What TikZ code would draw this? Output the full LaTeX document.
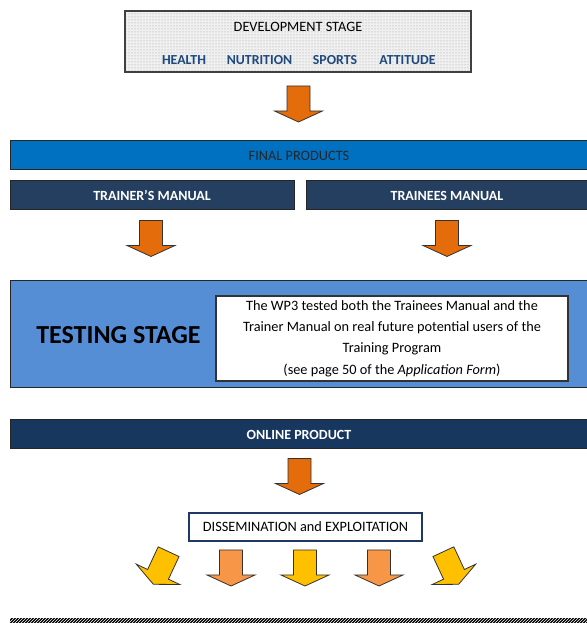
\documentclass[tikz,border=0pt]{standalone}
\usepackage{fontspec}
\setmainfont{Carlito}
\usepackage{tikz}
\usepackage{xcolor}
\usetikzlibrary{patterns, positioning}
\definecolor{FinalBlue}{HTML}{0070C0}
\definecolor{ManualNavy}{HTML}{243F60}
\definecolor{TestBlue}{HTML}{558ED5}
\definecolor{OnlineNavy}{HTML}{17375E}
\definecolor{DissemNavy}{HTML}{1F3864}
\definecolor{TopicBlue}{HTML}{1F497D}
\definecolor{ArrowOrange}{HTML}{E46C0A}
\definecolor{LightOrange}{HTML}{F79646}
\definecolor{ArrowYellow}{HTML}{FFC000}

\begin{document}
\begin{tikzpicture}[x=1pt, y=1pt, font=\fontsize{14.3}{17}\selectfont,
    bar/.style={rectangle, draw=black!85, line width=1pt, minimum height=29pt, inner sep=0pt},
    whitebar/.style={bar, text=white, font=\fontsize{14}{17}\selectfont\bfseries},
    topic/.style={text=TopicBlue, font=\fontsize{13.8}{17}\selectfont\bfseries},
    pics/blockarrow/.style={code={
        \draw[draw=black!80, line width=0.8pt, line join=miter, fill=#1]
        (-11.5,18) -- (11.5,18) -- (11.5,-7) -- (24,-7) -- (0,-18) -- (-24,-7) -- (-11.5,-7) -- cycle;}}]

    \useasboundingbox (0,0) rectangle (586,623);

    % development stage
    \node[rectangle, draw=black!75, line width=1.5pt, preaction={fill=gray!12}, pattern=dots, pattern color=gray!80, minimum width=346pt, minimum height=61pt] (dev) at (298,581.5) {};
    \node (devtitle) at (298,596) {DEVELOPMENT STAGE};
    \node[topic] (health) at (184,563) {HEALTH};
    \node[topic] (nutrition) at (259.5,563) {NUTRITION};
    \node[topic] (sports) at (335,563) {SPORTS};
    \node[topic] (attitude) at (407.5,563) {ATTITUDE};

    \pic at (298.5,519) {blockarrow=ArrowOrange};

    % final products
    \node[bar, fill=FinalBlue, text=black!85, minimum width=578pt] (final) at (299,467.5) {FINAL PRODUCTS};
    \node[whitebar, fill=ManualNavy, minimum width=284pt] (trainer) at (152,427.5) {TRAINER'S MANUAL};
    \node[whitebar, fill=ManualNavy, minimum width=282pt] (trainees) at (447,427.5) {TRAINEES MANUAL};

    \pic at (151,384.5) {blockarrow=ArrowOrange};
    \pic at (447,384.5) {blockarrow=ArrowOrange};

    % testing stage
    \node[bar, fill=TestBlue, minimum width=578pt, minimum height=107pt] (testing) at (299,288.5) {};
    \node[font=\fontsize{26}{31}\selectfont\bfseries] (testlabel) at (118.5,288) {TESTING STAGE};
    \node[rectangle, draw=black!80, line width=1.2pt, fill=white, minimum width=352pt, minimum height=85pt, align=center, font=\fontsize{14.3}{21.3}\selectfont] (note) at (392,284.5)
        {The WP3 tested both the Trainees Manual and the\\Trainer Manual on real future potential users of the\\Training Program\\(see page 50 of the \textit{Application Form})};

    % online product
    \node[whitebar, fill=OnlineNavy, minimum width=578pt] (online) at (299,188.5) {ONLINE PRODUCT};

    \pic at (299.5,146.5) {blockarrow=ArrowOrange};

    \node[rectangle, draw=DissemNavy, line width=1.5pt, fill=white, minimum width=233pt, minimum height=28pt] (dissem) at (305.5,96) {DISSEMINATION and EXPLOITATION};

    \foreach \xpos/\ang/\col in {161/-25/ArrowYellow, 231/0/LightOrange, 305/0/ArrowYellow, 379/0/LightOrange, 451/25/ArrowYellow}
        \pic[rotate=\ang] at (\xpos,55) {blockarrow=\col};

    % hatched rule
    \fill[black] (10,0) rectangle (590,4.5);
    \fill[pattern=north east lines, pattern color=white] (10,0) rectangle (590,4.5);

\end{tikzpicture}
\end{document}
